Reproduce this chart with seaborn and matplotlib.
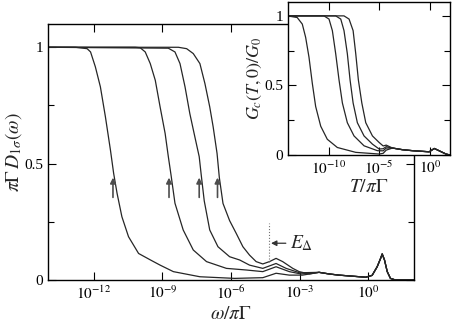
import numpy as np
import pandas as pd
import matplotlib
matplotlib.use("Agg")
import matplotlib.pyplot as plt
import seaborn as sns
from matplotlib.ticker import FixedLocator, NullLocator

# ---- main panel: log10(omega/pi Gamma) and pi Gamma D(omega)
main_tail_logw = [-2.15, -1.71, -1.28, -0.11, 0.17, 0.39, 0.54, 0.61, 0.71, 0.83, 0.97, 1.19, 2.0]
main_tail_d = [0.033, 0.026, 0.021, 0.012, 0.020, 0.057, 0.093, 0.112, 0.086, 0.036, 0.007, 0.0, 0.0]

c1_logw = [-14, -12.8, -12.29, -12.14, -11.93, -11.71, -11.49, -11.27, -11.13, -10.98, -10.77,
           -10.48, -10.04, -9.5, -9.1, -8.52, -7.36, -5.84, -4.61, -4.03, -3.45, -2.87]
c1_d = [1.0, 1.0, 0.994, 0.98, 0.916, 0.83, 0.701, 0.558, 0.458, 0.372, 0.272,
        0.186, 0.114, 0.085, 0.064, 0.036, 0.014, 0.007, 0.010, 0.029, 0.021, 0.021]

c2_logw = [-14, -10.19, -9.97, -9.75, -9.53, -9.31, -9.10, -8.88, -8.74, -8.62, -8.45,
           -8.09, -7.65, -7.07, -6.20, -5.33, -4.61, -4.03, -3.45, -2.94]
c2_d = [1.0, 1.0, 0.998, 0.98, 0.93, 0.858, 0.744, 0.63, 0.53, 0.45, 0.33,
        0.215, 0.129, 0.079, 0.050, 0.043, 0.036, 0.057, 0.036, 0.026]

c3_logw = [-14, -8.74, -8.45, -8.23, -8.01, -7.80, -7.58, -7.39, -7.30, -7.17, -6.93,
           -6.57, -6.06, -5.62, -5.19, -4.61, -4.03, -3.59, -3.0]
c3_d = [1.0, 0.996, 0.98, 0.93, 0.83, 0.715, 0.615, 0.53, 0.45, 0.34, 0.215,
        0.143, 0.10, 0.086, 0.064, 0.05, 0.071, 0.05, 0.031]

c4_logw = [-14, -8.30, -7.94, -7.65, -7.36, -7.14, -6.93, -6.78, -6.61, -6.51, -6.35,
           -6.06, -5.77, -5.48, -5.19, -4.90, -4.61, -4.32, -4.03, -3.74, -3.30, -3.02, -2.58]
c4_d = [1.0, 1.0, 0.994, 0.973, 0.93, 0.844, 0.744, 0.658, 0.544, 0.44, 0.329,
        0.255, 0.2, 0.143, 0.107, 0.079, 0.069, 0.079, 0.093, 0.079, 0.05, 0.036, 0.026]

arrow_logw = [-11.16, -8.71, -7.39, -6.59]
e_delta_logw = -4.32

# ---- inset: log10(T/pi Gamma) and Gc(T,0)/G0
ins_tail_logt = [-3.68, -2.69, -1.70, -0.05, 0.45, 0.94, 1.6, 2.0]
ins_tail_g = [0.05, 0.038, 0.031, 0.023, 0.047, 0.03, 0.007, 0.0]

ga_logt = [-14, -13.09, -12.59, -12.26, -11.93, -11.60, -11.27, -10.77, -10.12, -9.13, -7.31, -5.0, -4.6, -4.3]
ga = [1.0, 0.988, 0.941, 0.846, 0.704, 0.515, 0.349, 0.207, 0.113, 0.054, 0.019, 0.007, 0.012, 0.035]
gb_logt = [-14, -10.45, -9.95, -9.62, -9.29, -8.96, -8.63, -8.14, -7.48, -6.49, -5.17, -4.6, -4.3]
gb = [1.0, 1.0, 0.977, 0.894, 0.728, 0.539, 0.374, 0.232, 0.137, 0.066, 0.031, 0.03, 0.05]
gc_logt = [-14, -9.29, -8.79, -8.47, -8.14, -7.87, -7.57, -7.15, -6.49, -5.66, -5.0, -4.6, -4.3]
gc = [1.0, 1.0, 0.977, 0.894, 0.728, 0.539, 0.374, 0.232, 0.137, 0.078, 0.043, 0.045, 0.06]
gd_logt = [-14, -8.47, -7.97, -7.57, -7.31, -7.05, -6.71, -6.32, -5.66, -5.0, -4.6, -4.3]
gd = [1.0, 1.0, 0.977, 0.894, 0.728, 0.539, 0.374, 0.232, 0.137, 0.09, 0.065, 0.071]

xticks_main = [1e-12, 1e-9, 1e-6, 1e-3, 1e0]
xlabels_main = [r"$10^{-12}$", r"$10^{-9}$", r"$10^{-6}$", r"$10^{-3}$", r"$10^{0}$"]
xticks_ins = [1e-10, 1e-5, 1e0]
xlabels_ins = [r"$10^{-10}$", r"$10^{-5}$", r"$10^{0}$"]

sns.set_style("ticks")
plt.rcParams["font.family"] = ["Liberation Serif", "DejaVu Serif"]
plt.rcParams["mathtext.fontset"] = "stix"
plt.rcParams["axes.unicode_minus"] = False


def build(curves, tail_x, tail_y, name):
    rows = []
    for i, (lx, yy) in enumerate(curves):
        xs = list(lx) + list(tail_x)
        ys = list(yy) + list(tail_y)
        for a, b in zip(xs, ys):
            rows.append({"x": 10.0 ** a, name: b, "curve": i})
    return pd.DataFrame(rows)


def style_axes(ax, fs):
    ax.set_xscale("log")
    ax.set_xlim(1e-14, 1e2)
    ax.set_ylim(0, 1.1)
    ax.yaxis.set_major_locator(FixedLocator([0, 0.5, 1]))
    ax.yaxis.set_minor_locator(FixedLocator([0.25, 0.75]))
    ax.set_yticklabels(["0", "0.5", "1"])
    ax.xaxis.set_minor_locator(NullLocator())
    ax.tick_params(which="both", direction="in", top=True, right=True,
                   labelsize=fs, width=0.8, colors="black")
    ax.tick_params(which="major", length=6)
    ax.tick_params(which="minor", length=4)
    for s in ax.spines.values():
        s.set_linewidth(1.0)
        s.set_color("black")


fig = plt.figure(figsize=(4.55, 3.27), dpi=100)
ax = fig.add_axes([0.1055, 0.1437, 0.8044, 0.7829])

main_df = build([(c1_logw, c1_d), (c2_logw, c2_d), (c3_logw, c3_d), (c4_logw, c4_d)],
                main_tail_logw, main_tail_d, "D")
sns.lineplot(data=main_df, x="x", y="D", units="curve", estimator=None,
             color="0.15", lw=0.9, legend=False, ax=ax)
style_axes(ax, 11)
ax.xaxis.set_major_locator(FixedLocator(xticks_main))
ax.set_xticklabels(xlabels_main)
ax.set_xlabel(r"$\omega/\pi\Gamma$", fontsize=14)
ax.set_ylabel(r"$\pi\Gamma\, D_{1\sigma}(\omega)$", fontsize=14)
ax.xaxis.set_label_coords(0.5, -0.10)
ax.yaxis.set_label_coords(-0.065, 0.5)

for lw in arrow_logw:
    ax.annotate("", xy=(10 ** lw, 0.44), xytext=(10 ** lw, 0.355),
                arrowprops=dict(arrowstyle="-|>", color="0.3", lw=1.2,
                                mutation_scale=8, shrinkA=0, shrinkB=0))

ax.vlines(10 ** e_delta_logw, 0.077, 0.245, colors="0.45", linestyles=":", lw=0.8)
ax.annotate(r"$E_\Delta$", xy=(10 ** -4.25, 0.158), xytext=(10 ** -3.4, 0.158),
            fontsize=14, va="center", ha="left",
            arrowprops=dict(arrowstyle="-|>", color="0.2", lw=0.9,
                            mutation_scale=8, shrinkA=1, shrinkB=0))

axi = fig.add_axes([0.633, 0.526, 0.356, 0.468])
axi.set_facecolor("white")
ins_df = build([(ga_logt, ga), (gb_logt, gb), (gc_logt, gc), (gd_logt, gd)],
               ins_tail_logt, ins_tail_g, "G")
sns.lineplot(data=ins_df, x="x", y="G", units="curve", estimator=None,
             color="0.15", lw=0.9, legend=False, ax=axi)
style_axes(axi, 11)
axi.xaxis.set_major_locator(FixedLocator(xticks_ins))
axi.set_xticklabels(xlabels_ins)
axi.set_xlabel(r"$T/\pi\Gamma$", fontsize=14)
axi.set_ylabel(r"$G_c(T,0)/G_0$", fontsize=13)
axi.xaxis.set_label_coords(0.5, -0.16)
axi.yaxis.set_label_coords(-0.15, 0.5)

fig.savefig("out.png", dpi=100)
